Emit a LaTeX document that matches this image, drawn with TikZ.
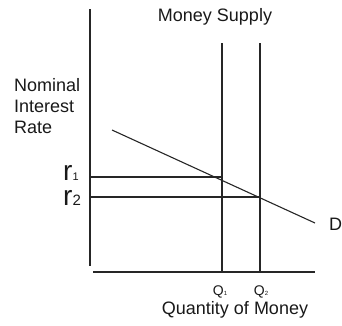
\documentclass[tikz,border=0pt]{standalone}
\usepackage{fontspec}
\setmainfont{Liberation Sans}
\usepackage{tikz}
\usetikzlibrary{positioning}

\begin{document}
\begin{tikzpicture}[x=1pt, y=-1pt,
	lbl/.style={inner sep=0pt, text=black!90, font=\fontsize{18}{21}\selectfont},
	qlbl/.style={inner sep=0pt, text=black!90, font=\fontsize{14}{14}\selectfont},
	rlbl/.style={inner sep=0pt, text=black!90, anchor=base west, text height=15pt, text depth=0pt},
	axis/.style={draw=black!85, line width=1.5pt},
	dem/.style={draw=black!85, line width=1.1pt}
	]
\useasboundingbox (0,0) rectangle (342,325);

\coordinate (ytop) at (90,9);
\coordinate (ybot) at (90,266);
\coordinate (xbeg) at (93,272);
\coordinate (xend) at (315,272);
\coordinate (ms1top) at (222,43);
\coordinate (ms1bot) at (222,272);
\coordinate (ms2top) at (260,43);
\coordinate (ms2bot) at (260,272);
\coordinate (dbeg) at (112,130);
\coordinate (dend) at (315,223);
\coordinate (e1) at (222,177);
\coordinate (e2) at (260,197);
\coordinate (r1ax) at (90,177);
\coordinate (r2ax) at (90,197);

\draw[axis] (ytop) -- (ybot);
\draw[axis] (xbeg) -- (xend);
\foreach \n in {1,2} \draw[axis] (ms\n top) -- (ms\n bot);
\draw[axis, line width=1.2pt] (r1ax) -- (e1);
\draw[axis, line width=1.2pt] (r2ax) -- (e2);
\draw[dem] (dbeg) -- (dend);

\node[lbl] (ms) at (215,17) {Money Supply};
\node[lbl, align=left, anchor=north west] (ir) at (14,78) {Nominal\\Interest\\Rate};
\node[rlbl] (r1) at (63,180) {{\fontsize{28}{28}\selectfont r}{\fontsize{11}{11}\selectfont 1}};
\node[rlbl] (r2) at (63,205) {{\fontsize{28}{28}\selectfont r}{\fontsize{15}{15}\selectfont 2}};
\node[lbl, anchor=west] (d) at (329,224) {D};
\node[qlbl] (q1) at (220,292) {Q{\fontsize{6}{6}\selectfont 1}};
\node[qlbl] (q2) at (261,292) {Q{\fontsize{6}{6}\selectfont 2}};
\node[lbl] (qty) at (235,310) {Quantity of Money};
\end{tikzpicture}
\end{document}
